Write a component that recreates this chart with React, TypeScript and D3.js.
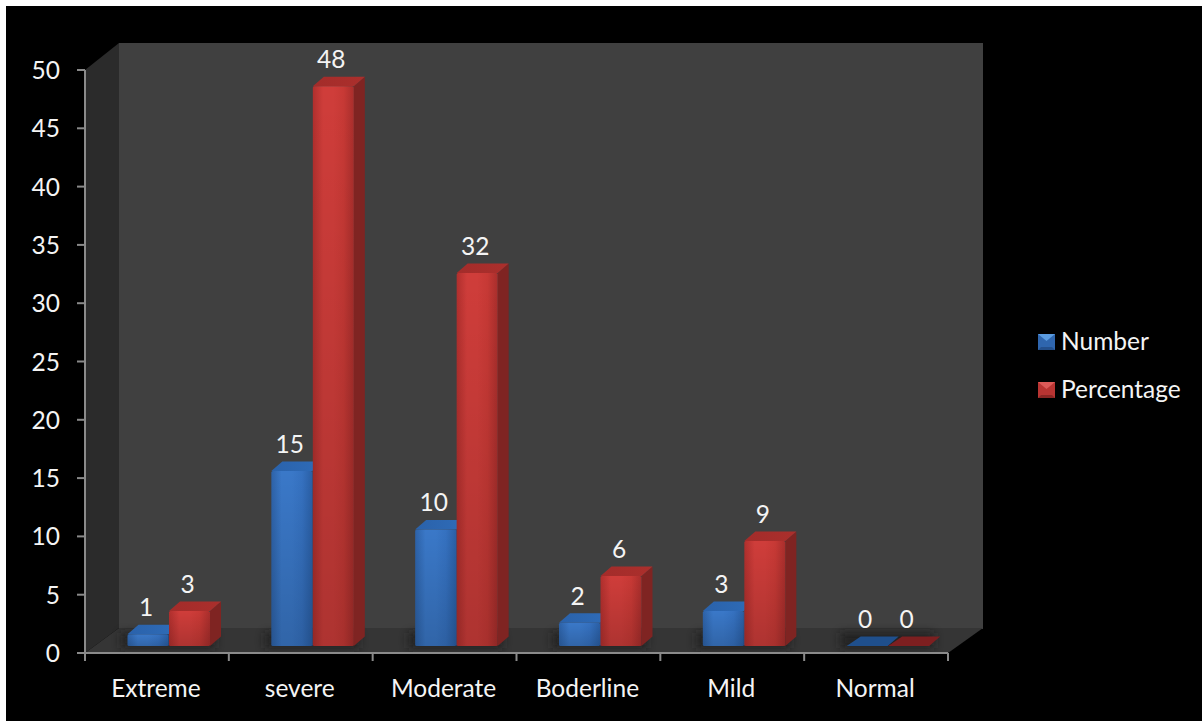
import React from "react";
import * as d3 from "d3";

// Chart data
const categories = ["Extreme", "severe", "Moderate", "Boderline", "Mild", "Normal"];
const numberValues = [1, 15, 10, 2, 3, 0];
const percentageValues = [3, 48, 32, 6, 9, 0];
const yTicks = [0, 5, 10, 15, 20, 25, 30, 35, 40, 45, 50];

const W = 1202;
const H = 721;
const FONT = "Lato, 'Open Sans', sans-serif";

// Front plane of the axes and the oblique offset of the back wall
const frontLeft = 85;
const frontRight = 948;
const frontBottom = 653;
const frontTop = 70;
const depthX = 34;
const depthY = -25;
const wallTop = 43;

// Bars stand partly into the floor, with a short oblique depth of their own
const barLift = 7;
const barDepthX = 11;
const barDepthY = -9.5;

const y = d3.scaleLinear().domain([0, 50]).range([frontBottom, frontTop]);
const x0 = d3.scaleBand<string>().domain(categories).range([frontLeft, frontRight]);
const barW = 41;

const poly = (pts: [number, number][]) => d3.line()(pts) + "Z";

type Palette = { topGrad: string; side: string; front: string; flat: string };
const blue: Palette = { topGrad: "url(#blueTop)", side: "#255391", front: "url(#blueFront)", flat: "#1f4f8c" };
const red: Palette = { topGrad: "url(#redTop)", side: "#7f2422", front: "url(#redFront)", flat: "#7d1f20" };

function Bar({ left, value, pal }: { left: number; value: number; pal: Palette }) {
  const base = y(0) - barLift;
  const top = y(value) - barLift;
  const right = left + barW;
  if (value === 0) {
    return (
      <path
        d={poly([
          [left, base],
          [right, base],
          [right + barDepthX, base + barDepthY],
          [left + barDepthX + 3, base + barDepthY],
        ])}
        fill={pal.flat}
      />
    );
  }
  return (
    <g>
      <path
        d={poly([
          [right, top],
          [right + barDepthX, top + barDepthY],
          [right + barDepthX, base + barDepthY],
          [right, base],
        ])}
        fill={pal.side}
      />
      <path
        d={poly([
          [left, top],
          [left + barDepthX, top + barDepthY],
          [right + barDepthX, top + barDepthY],
          [right, top],
        ])}
        fill={pal.topGrad}
      />
      <rect x={left} y={top} width={barW} height={base - top} fill={pal.front} rx={1.5} />
      <rect x={left} y={top} width={barW} height={base - top} fill="url(#fade)" rx={1.5} />
    </g>
  );
}

function Gradient({ id, stops }: { id: string; stops: string[] }) {
  return (
    <linearGradient id={id} x1="0" x2="1" y1="0" y2="0">
      {stops.map((c, i) => (
        <stop key={i} offset={i / (stops.length - 1)} stopColor={c} />
      ))}
    </linearGradient>
  );
}

// Bevelled legend key: a square with a light upper facet and a dark lower one
function LegendKey({ cy, mid, light, dark }: { cy: number; mid: string; light: string; dark: string }) {
  const l = 1038;
  const r = 1055;
  const t = cy - 8;
  const b = cy + 8;
  const cx = (l + r) / 2;
  return (
    <g>
      <rect x={l} y={t} width={r - l} height={b - t} fill={mid} />
      <path d={poly([[l, t], [r, t], [cx, cy - 1]])} fill={light} />
      <path d={poly([[l, b], [r, b], [r - 3, b - 3], [l + 3, b - 3]])} fill={dark} />
    </g>
  );
}

export default function App() {
  const tickXs = categories.map((c) => x0(c)!).concat(frontRight);
  const band = x0.bandwidth();
  const textStyle = { fontFamily: FONT, fontSize: 24.5, fill: "#f4f4f4" };

  return (
    <svg width={W} height={H} style={{ position: "absolute", left: 0, top: 0, display: "block" }}>
      <defs>
        <Gradient id="blueFront" stops={["#2d62a8", "#3a78c8", "#3a78c8", "#3571c0", "#2a5fa5"]} />
        <Gradient id="redFront" stops={["#b02f2d", "#cf3d3a", "#cf3d3a", "#c73935", "#a92e2c"]} />
        <Gradient id="blueTop" stops={["#2a62ab", "#2f6cb8"]} />
        <Gradient id="redTop" stops={["#a32c2a", "#ab2f2c"]} />
        <linearGradient id="fade" x1="0" x2="0" y1="0" y2="1">
          <stop offset="0" stopColor="#000000" stopOpacity={0} />
          <stop offset="1" stopColor="#000000" stopOpacity={0.16} />
        </linearGradient>
        <filter id="soft" x="-30%" y="-100%" width="160%" height="300%">
          <feGaussianBlur stdDeviation="5" />
        </filter>
      </defs>

      <rect width={W} height={H} fill="#ffffff" />
      <rect x={6} y={6} width={W - 6} height={H - 6} fill="#000000" />

      {/* Back wall */}
      <rect
        x={frontLeft + depthX}
        y={wallTop}
        width={frontRight - frontLeft + 1}
        height={frontBottom + depthY - wallTop + 1}
        fill="#404040"
      />
      {/* Side wall */}
      <path
        d={poly([
          [frontLeft, frontTop],
          [frontLeft + depthX, wallTop],
          [frontLeft + depthX, frontBottom + depthY],
          [frontLeft, frontBottom],
        ])}
        fill="#2b2b2b"
      />
      {/* Floor */}
      <path
        d={poly([
          [frontLeft, frontBottom],
          [frontLeft + depthX, frontBottom + depthY],
          [frontRight + depthX + 1, frontBottom + depthY],
          [frontRight, frontBottom],
        ])}
        fill="#353535"
      />

      {/* Soft shadows on the floor beneath the bars */}
      {categories.map((c) => (
        <rect
          key={c}
          x={x0(c)! + 36}
          y={frontBottom - 20}
          width={band - 50}
          height={15}
          fill="#1c1c1c"
          opacity={0.8}
          filter="url(#soft)"
        />
      ))}

      {/* Axis lines and tick marks */}
      <g stroke="#8a8a8a" strokeWidth={2} fill="none">
        <line x1={frontLeft} x2={frontLeft} y1={frontTop} y2={frontBottom + 8} />
        <line x1={frontLeft - 8} x2={frontRight} y1={frontBottom} y2={frontBottom} />
        {yTicks.map((t) => (
          <line key={t} x1={frontLeft - 8} x2={frontLeft} y1={y(t)} y2={y(t)} />
        ))}
        {tickXs.map((t, i) => (
          <line key={i} x1={t} x2={t} y1={frontBottom} y2={frontBottom + 8} />
        ))}
      </g>

      {/* Value axis labels */}
      {yTicks.map((t) => (
        <text key={t} x={60} y={y(t) + 9} textAnchor="end" style={textStyle}>
          {t}
        </text>
      ))}

      {/* Category labels */}
      {categories.map((c) => (
        <text key={c} x={x0(c)! + band / 2 - 1} y={697} textAnchor="middle" style={textStyle}>
          {c}
        </text>
      ))}

      {/* Bars, drawn left to right so each overlaps its neighbour correctly */}
      {categories.map((c, i) => {
        const leftBlue = x0(c)! + 42.5;
        const leftRed = leftBlue + barW + 0.5;
        return (
          <g key={c}>
            <Bar left={leftBlue} value={numberValues[i]} pal={blue} />
            <Bar left={leftRed} value={percentageValues[i]} pal={red} />
            <text
              x={leftBlue + barW / 2 - 2}
              y={y(numberValues[i]) - barLift - 18}
              textAnchor="middle"
              style={textStyle}
            >
              {numberValues[i]}
            </text>
            <text
              x={leftRed + barW / 2 - 2}
              y={y(percentageValues[i]) - barLift - 18}
              textAnchor="middle"
              style={textStyle}
            >
              {percentageValues[i]}
            </text>
          </g>
        );
      })}

      {/* Legend */}
      <LegendKey cy={342} mid="#2f66ae" light="#5a9be0" dark="#24508c" />
      <LegendKey cy={390} mid="#b83432" light="#dc5a58" dark="#8a2624" />
      <text x={1061} y={350} style={textStyle}>
        Number
      </text>
      <text x={1061} y={398} style={textStyle}>
        Percentage
      </text>
    </svg>
  );
}
